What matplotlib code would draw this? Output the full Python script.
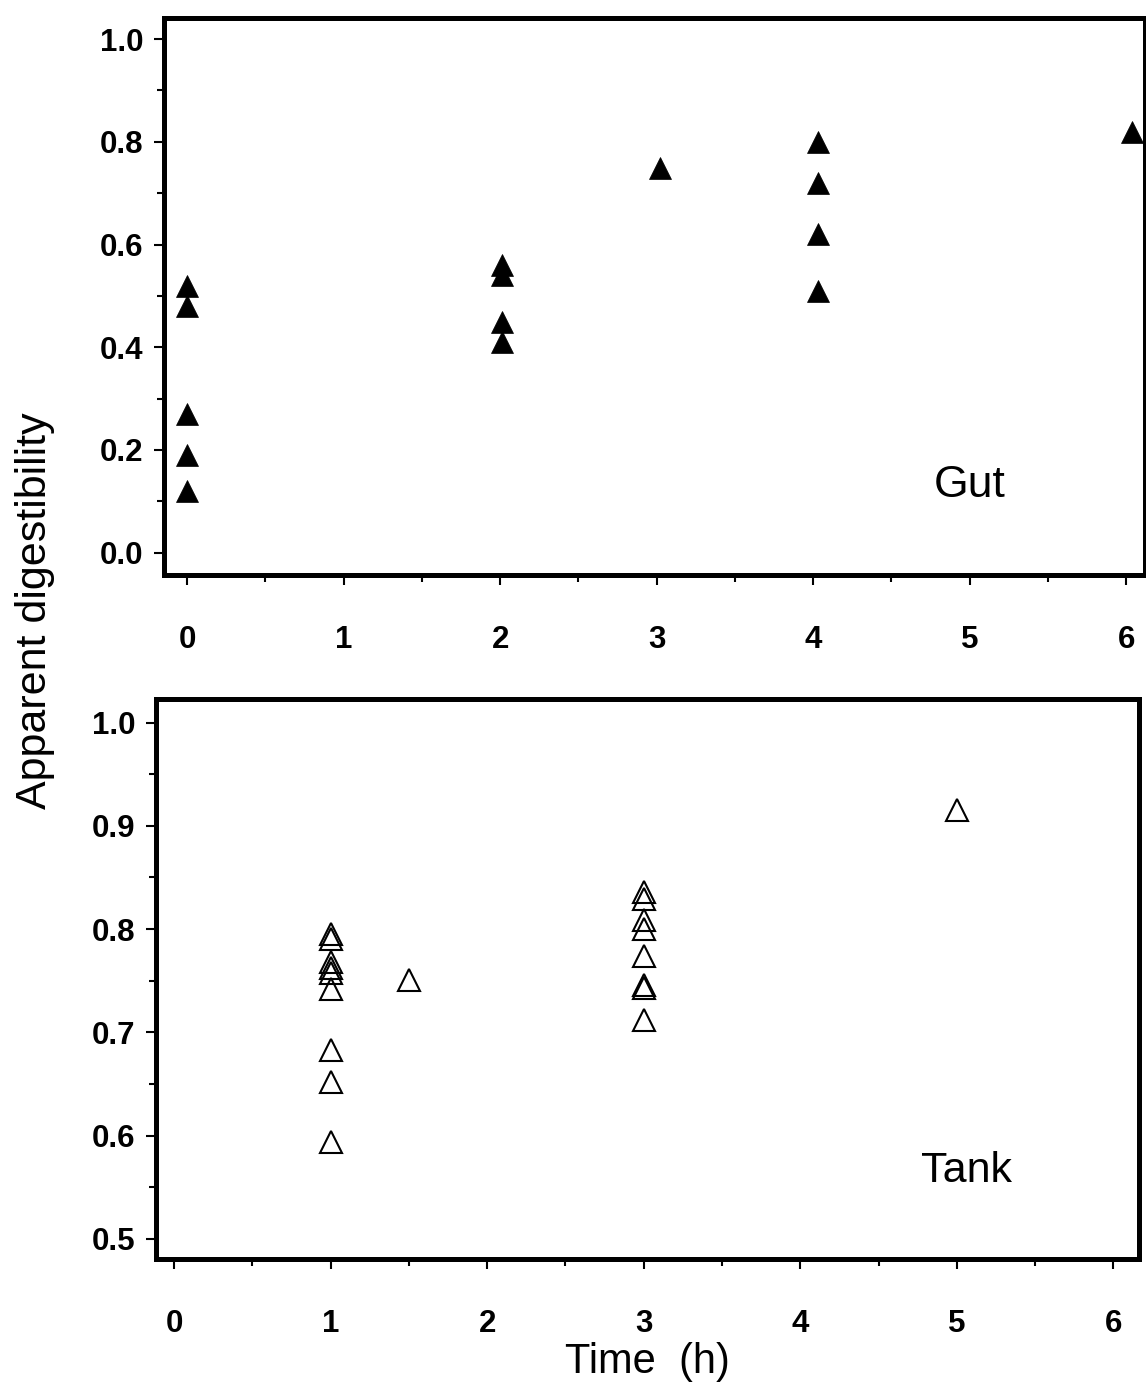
import matplotlib
matplotlib.use("Agg")
import matplotlib.pyplot as plt
from matplotlib.ticker import MultipleLocator, FormatStrFormatter

plt.rcParams['font.family'] = ['Liberation Sans', 'DejaVu Sans']

# ---- data ----
gut_time = [0.0, 0.0, 0.0, 0.0, 0.0,
            2.01, 2.01, 2.01, 2.01,
            3.02,
            4.03, 4.03, 4.03, 4.03,
            6.04]
gut_digest = [0.52, 0.48, 0.27, 0.19, 0.12,
              0.56, 0.54, 0.45, 0.41,
              0.75,
              0.80, 0.72, 0.62, 0.51,
              0.82]

tank_time = [1.0, 1.0, 1.0, 1.0, 1.0, 1.0, 1.0, 1.0, 1.0,
             1.5,
             3.0, 3.0, 3.0, 3.0, 3.0, 3.0, 3.0, 3.0,
             5.0]
tank_digest = [0.795, 0.790, 0.768, 0.762, 0.757, 0.742, 0.683, 0.652, 0.594,
               0.751,
               0.836, 0.829, 0.809, 0.800, 0.774, 0.746, 0.743, 0.712,
               0.915]

x_ticks = [0, 1, 2, 3, 4, 5, 6]
gut_yticks = [0.0, 0.2, 0.4, 0.6, 0.8, 1.0]
tank_yticks = [0.5, 0.6, 0.7, 0.8, 0.9, 1.0]

fig = plt.figure(figsize=(11.46, 13.92), dpi=100)
ax1 = fig.add_axes([0.1431, 0.5869, 0.8560, 0.4001])
ax2 = fig.add_axes([0.1361, 0.0959, 0.8578, 0.4019])


def style(ax, yticks, yminor):
    for s in ax.spines.values():
        s.set_linewidth(3.6)
        s.set_color('black')
    ax.set_xticks(x_ticks)
    ax.xaxis.set_minor_locator(MultipleLocator(0.5))
    ax.set_yticks(yticks)
    ax.yaxis.set_minor_locator(MultipleLocator(yminor))
    ax.yaxis.set_major_formatter(FormatStrFormatter('%.1f'))
    ax.tick_params(which='major', direction='out', length=7, width=1.5,
                   labelsize=22.5, top=False, right=False)
    ax.tick_params(which='minor', direction='out', length=5, width=1.5,
                   top=False, right=False)
    ax.tick_params(axis='x', which='major', pad=29)
    ax.tick_params(axis='y', which='major', pad=8)
    for lab in ax.get_xticklabels() + ax.get_yticklabels():
        lab.set_fontweight('bold')


ax1.plot(gut_time, gut_digest, linestyle='none', marker='^', color='black',
         markersize=16, markeredgewidth=0.5, clip_on=False)
ax1.set_xlim(-0.147, 6.12)
ax1.set_ylim(-0.0436, 1.041)
style(ax1, gut_yticks, 0.1)
ax1.text(5.0, 0.108, 'Gut', fontsize=32, ha='center', va='baseline')

ax2.plot(tank_time, tank_digest, linestyle='none', marker='^',
         markerfacecolor='none', markeredgecolor='black',
         markersize=16.5, markeredgewidth=1.5, clip_on=False)
ax2.set_xlim(-0.115, 6.163)
ax2.set_ylim(0.481, 1.0227)
style(ax2, tank_yticks, 0.05)
ax2.text(5.06, 0.555, 'Tank', fontsize=31, ha='center', va='baseline')

fig.text(35 / 1146, 1 - 611 / 1392, 'Apparent digestibility', rotation=90,
         fontsize=31, ha='center', va='center')
fig.text(647.5 / 1146, 0.0137, 'Time  (h)', fontsize=30, ha='center',
         va='baseline')

fig.savefig('out.png', dpi=100)
